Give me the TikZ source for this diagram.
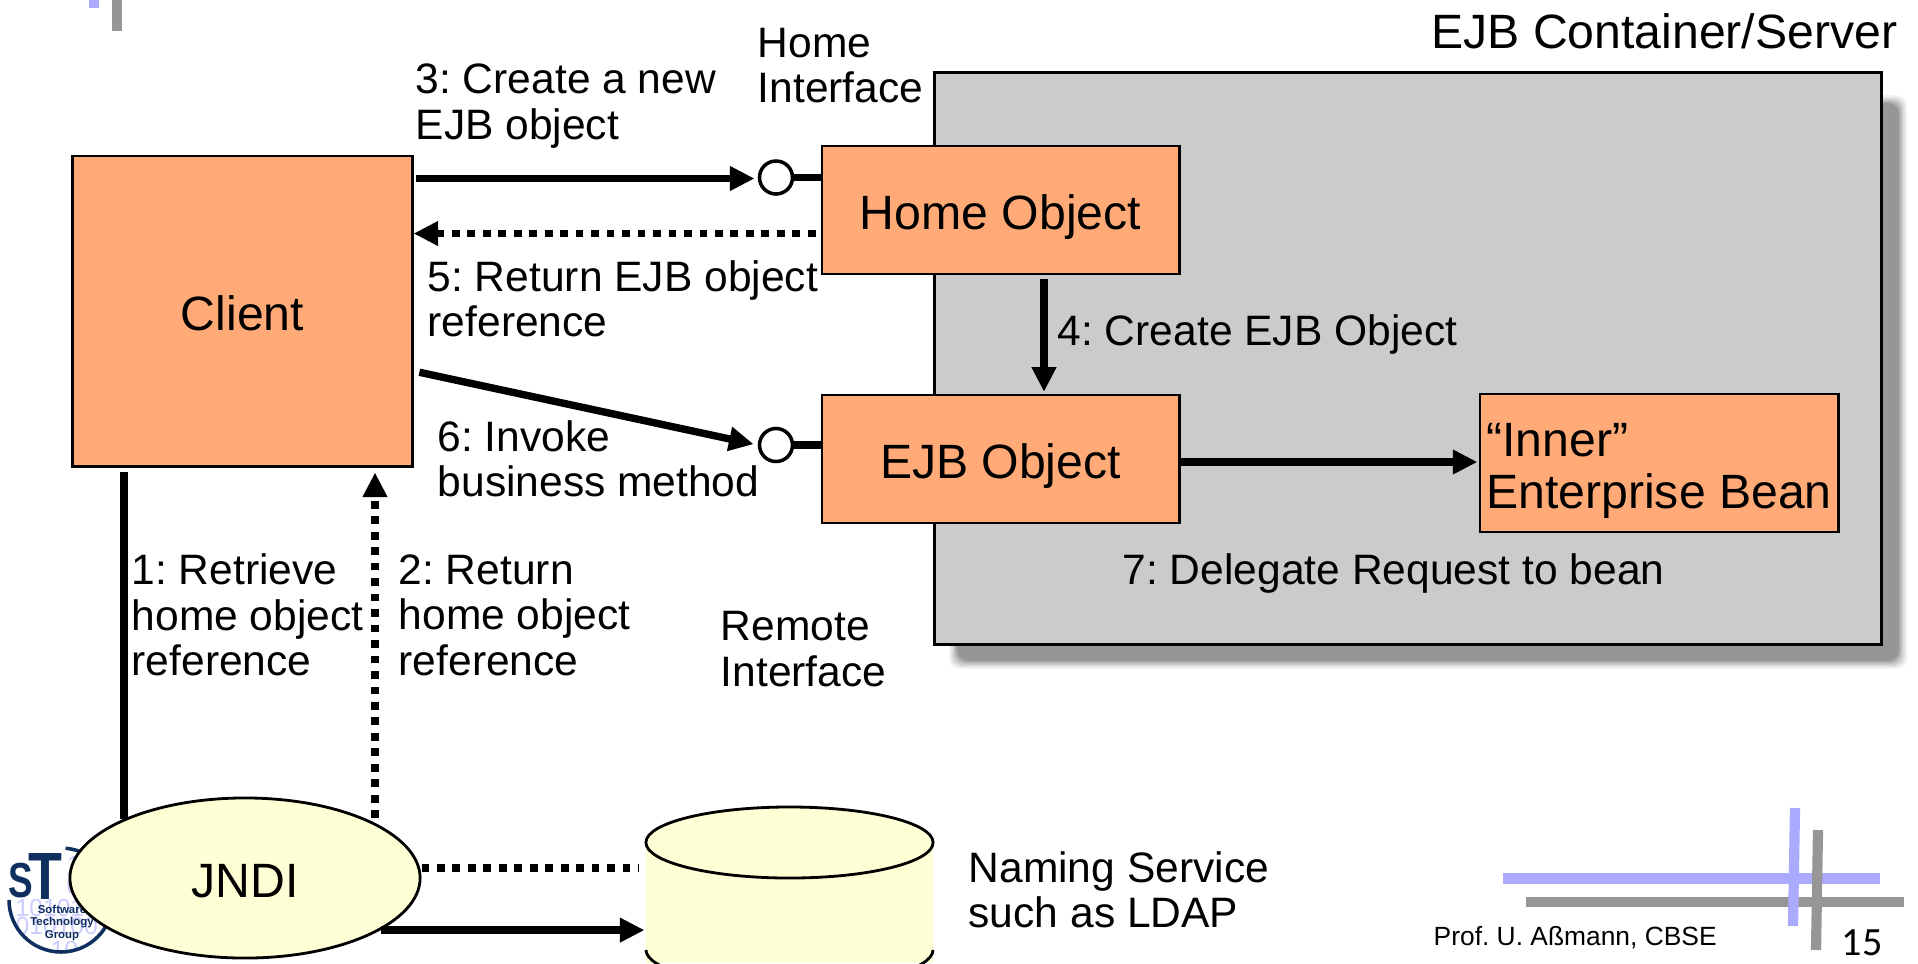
\documentclass[tikz,border=0pt]{standalone}
\usepackage{fontspec}
\usepackage{xcolor}
\setmainfont{Liberation Sans}
\newfontfamily\pagefont{Carlito}
\usetikzlibrary{arrows.meta,shapes.geometric}
\definecolor{box_orange}{HTML}{FFAA77}
\definecolor{pale_yellow}{HTML}{FFFFD5}
\definecolor{container_gray}{HTML}{CBCBCB}
\definecolor{shadow_gray}{HTML}{969696}
\definecolor{bar_blue}{HTML}{AAAAFF}
\definecolor{logo_navy}{HTML}{0F2F5F}
\definecolor{logo_digit}{HTML}{CCCCFF}
\frenchspacing

\begin{document}
\begin{tikzpicture}[x=0.01cm,y=-0.01cm,
  box_node/.style={rectangle,draw,fill=box_orange,line width=0.8pt,inner sep=0pt,align=left,font=\fontsize{13.7}{14.8}\selectfont},
  line_node/.style={box_node,text height=11pt,text depth=0pt},
  label_node/.style={anchor=west,inner sep=0pt,align=left,font=\fontsize{12.1}{12.95}\selectfont},
  digit_node/.style={anchor=west,inner sep=0pt,text=logo_digit,font=\fontsize{7}{7}\selectfont},
  logo_node/.style={inner sep=0pt,text=logo_navy,font=\fontsize{3.25}{3.25}\selectfont\bfseries},
  port_node/.style={circle,draw,fill=white,line width=1pt,minimum size=0.33cm,inner sep=0pt},
  flow_line/.style={line width=2.1pt},
  flow_arrow/.style={line width=2.1pt,-{Triangle[length=7pt,width=6.6pt]}},
  dot_line/.style={line width=2.1pt,dash pattern=on 2.2pt off 2.2pt},
  bar_line/.style={line width=2.9pt}]

\path[use as bounding box,clip] (0,0) rectangle (1918,963);

% slide decoration
\draw[bar_line,bar_blue] (94,0) -- (94,8);
\draw[bar_line,shadow_gray] (117,0) -- (117,31);
\draw[bar_line,bar_blue] (1503,878.5) -- (1880,878.5);
\draw[bar_line,shadow_gray] (1526,902) -- (1904,902);
\draw[bar_line,bar_blue] (1795,808) -- (1793,926);
\draw[bar_line,shadow_gray] (1818,830) -- (1816,950);

% container with soft shadow
\foreach \blur/\tone in {8/12,6/30,4/50,2/75,0/100}
  \fill[shadow_gray!\tone,rounded corners=3pt] (957-\blur,103-\blur) rectangle (1899+\blur,661+\blur);
\node[rectangle,draw,fill=container_gray,line width=0.8pt,minimum width=9.46cm,minimum height=5.71cm,inner sep=0pt] (container) at (1408,358.5) {};

% boxes
\node[line_node,minimum width=3.39cm,minimum height=3.10cm] (client) at (242.5,311) {Client};
\node[line_node,minimum width=3.57cm,minimum height=1.28cm] (home_object) at (1000.5,210) {Home Object};
\node[line_node,minimum width=3.57cm,minimum height=1.28cm] (ejb_object) at (1000.5,459) {EJB Object};
\node[box_node,minimum width=3.58cm,minimum height=1.38cm] (bean) at (1659,463) {\rule{0pt}{13.7pt}“Inner”\\Enterprise Bean};

\node[port_node] (home_port) at (776,177.5) {};
\node[port_node] (ejb_port) at (776,445) {};

% logo
\begin{scope}
\clip (61,900) circle[radius=52];
\node[digit_node] (digits_a) at (15,908) {10101};
\node[digit_node] (digits_b) at (15,926) {010100};
\node[digit_node] (digits_c) at (50,950) {10};
\node[digit_node] (digits_d) at (66,865) {1};
\node[digit_node] (digits_e) at (66,886) {0};
\end{scope}
\draw[logo_navy,line width=1pt] (9,900) arc[start angle=180,end angle=-85,x radius=52,y radius=52];
\node[logo_node,font=\fontsize{19}{19}\selectfont\bfseries] (logo_t) at (45,876) {\scalebox{0.83}[1]{T}};
\node[logo_node,font=\fontsize{14}{14}\selectfont\bfseries] (logo_s) at (20.5,881) {\scalebox{0.75}[1]{S}};
\node[logo_node] (logo_a) at (62,909) {Software};
\node[logo_node] (logo_b) at (62,923) {Technology};
\node[logo_node] (logo_c) at (62,936) {Group};

% naming service
\fill[pale_yellow] (646,842) rectangle (933,963);
\draw[line width=0.8pt] (646,950) arc[start angle=180,end angle=90,x radius=143.5,y radius=35.5];
\draw[line width=0.8pt] (933,950) arc[start angle=0,end angle=90,x radius=143.5,y radius=35.5];
\node[ellipse,draw,fill=pale_yellow,line width=0.8pt,minimum width=2.87cm,minimum height=0.71cm,inner sep=0pt] (storage) at (789.5,842.5) {};
\node[ellipse,draw,fill=pale_yellow,line width=0.8pt,minimum width=3.50cm,minimum height=1.60cm,inner sep=0pt,text height=11pt,text depth=0pt,font=\fontsize{13.7}{13.7}\selectfont] (jndi) at (245,878) {JNDI};

% connector levels
\coordinate (level_1) at (124,0);
\coordinate (level_2) at (375,0);
\coordinate (level_3) at (0,178.5);
\coordinate (level_4) at (1044,0);
\coordinate (level_5) at (0,233.5);
\coordinate (level_6) at (0,371);
\coordinate (level_7) at (0,462);
\coordinate (level_8) at (0,868);

% connectors
\draw[flow_arrow,shorten <=0.8pt,shorten >=0.9pt] (client.east |- level_3) -- (home_port.west |- level_3);
\draw[flow_line] (home_port.east) -- (home_port -| home_object.west);
\draw[flow_line] (ejb_port.east) -- (ejb_port -| ejb_object.west);
\draw[dot_line,-{Triangle[length=7pt,width=6.6pt]},shorten <=1.4pt] (home_object.west |- level_5) -- (client.east |- level_5);
\draw[flow_arrow,shorten <=1.7pt,shorten >=1.2pt] (client.east |- level_6) -- (ejb_port.west);
\draw[flow_arrow,shorten <=1.1pt,shorten >=0.5pt] (home_object.south -| level_4) -- (ejb_object.north -| level_4);
\draw[flow_arrow,shorten >=0.3pt] (ejb_object.east |- level_7) -- (bean.west |- level_7);
\draw[flow_line,shorten <=1.4pt] (client.south -| level_1) -- (level_1 |- jndi.154);
\draw[dot_line,-{Triangle[length=7pt,width=6.6pt]},shorten <=1.8pt,shorten >=1.4pt] (level_2 |- jndi.22) -- (client.south -| level_2);
\draw[dot_line,shorten >=1.7pt] (jndi.east |- level_8) -- (storage.west |- level_8);
\draw[flow_arrow] (jndi.-21) -- (jndi.-21 -| storage.west);

% labels
\node[label_node,anchor=base east,font=\fontsize{13.7}{13.7}\selectfont] (container_label) at (1898,48) {EJB Container/Server};
\node[label_node] (label_3) at (415,106) {3: Create a new\\EJB object};
\node[label_node] (home_label) at (757,65.5) {Home\\Interface};
\node[label_node] (label_5) at (427,299) {5: Return EJB object\\reference};
\node[label_node] (label_4) at (1057,334) {4: Create EJB Object};
\node[label_node] (label_6) at (437,459) {6: Invoke\\business method};
\node[label_node] (label_7) at (1122,573) {7: Delegate Request to bean};
\node[label_node] (label_1) at (131,615) {1: Retrieve\\home object\\reference};
\node[label_node] (label_2) at (398,615) {2: Return\\home object\\reference};
\node[label_node] (remote_label) at (720,649) {Remote\\Interface};
\node[label_node] (naming_label) at (968,890) {Naming Service\\such as LDAP};
\node[label_node,anchor=base west,font=\fontsize{7.5}{7.5}\selectfont] (footer) at (1433,945) {Prof. U. Aßmann, CBSE};
\node[label_node,anchor=base west,font=\fontsize{11.4}{11.4}\pagefont] (page_number) at (1841,955) {15};

\end{tikzpicture}
\end{document}
